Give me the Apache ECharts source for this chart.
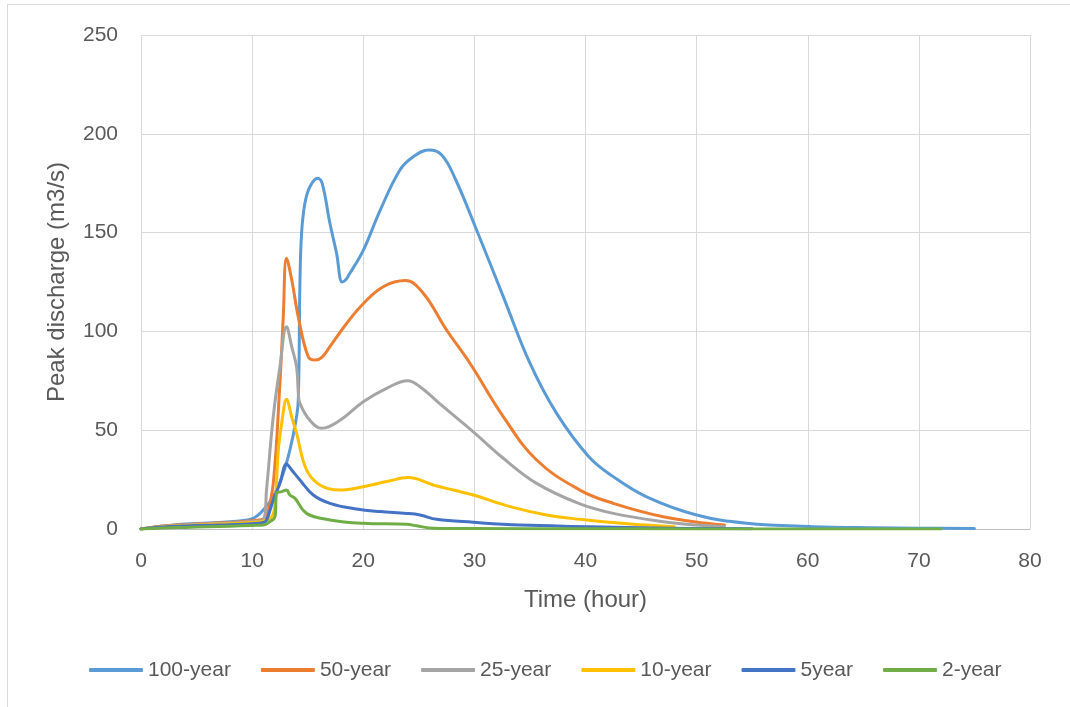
<!DOCTYPE html>
<html>
<head>
<meta charset="utf-8">
<script src="https://cdn.jsdelivr.net/npm/echarts@6/dist/echarts.min.js"></script>
<style>
  html, body { margin: 0; padding: 0; background: #fff; }
  #chart { width: 1070px; height: 707px; }
</style>
</head>
<body>
<div id="chart"></div>
<script>
// Hydrographs for each return period: time (hour) and discharge (m3/s)
const t100 = [0, 1, 2, 4, 6, 8, 10, 11, 11.9, 12.8, 13.4, 13.9, 14.15, 14.3, 14.45, 14.75, 15.2, 15.9, 16.3, 17, 17.6, 18.1, 18.4, 18.7, 20, 21.5, 23.3, 24.5, 25.9, 27.06, 28.3, 30.2, 32.6, 35, 37.4, 40.3, 42.5, 45.5, 50, 54.5, 60.5, 66, 70, 75];
const q100 = [0, 0.8, 1.5, 2.5, 3, 3.7, 5.2, 9.6, 16.3, 28.2, 40, 53.5, 65, 124, 149.6, 164.8, 173.2, 177.5, 175, 154.7, 139.5, 125, 126, 128.5, 141, 161, 181.7, 188.4, 191.8, 189.3, 177, 151.3, 117.6, 83.9, 58.5, 36.6, 26.5, 16.3, 7.1, 2.9, 1.2, 0.6, 0.4, 0.2];

const t50 = [0, 2, 4, 6, 8, 10, 11, 11.3, 11.9, 12.5, 12.8, 13.1, 13.6, 14.15, 15.05, 15.7, 16.3, 17, 18.5, 20, 21.8, 23.8, 25.4, 27.5, 29.6, 32.6, 35.6, 39.5, 42.5, 47, 50.9, 52.5];
const q50 = [0, 1.5, 2.2, 2.8, 3.3, 4.2, 5, 6.2, 23, 73.7, 107, 137, 125, 107.4, 87.2, 85.5, 87, 92.3, 104, 114, 122.6, 125.7, 119.3, 100.7, 83.9, 56.9, 34.9, 19.7, 13, 6.2, 2.9, 2];

const t25 = [0, 2, 4, 6, 8, 10, 11, 11.3, 11.9, 12.5, 13.1, 13.56, 14.0, 14.16, 14.3, 15.2, 16.26, 17.9, 20, 22.1, 24, 25.1, 27.2, 29.9, 32.6, 35.6, 39.5, 42.5, 47, 50, 52.5];
const q25 = [0, 1.3, 2, 2.6, 3, 3.8, 4.5, 20, 56.8, 82, 102.4, 92.3, 82, 68.7, 63.6, 55, 51, 55, 64.4, 71.2, 75, 72, 61.9, 49.2, 35.8, 23.1, 12.7, 7.9, 3.7, 2, 1.2];

const t10 = [0, 2, 4, 6, 8, 10, 11, 11.76, 12.06, 12.36, 12.66, 13.1, 13.56, 14.0, 14.9, 16.1, 17.9, 20, 22.1, 24.06, 26.3, 28.1, 29.9, 33.2, 36.5, 39.5, 44, 48];
const q10 = [0, 1.2, 1.8, 2.3, 2.7, 3.3, 4, 6.2, 13, 40, 53.5, 65.6, 56.8, 48.4, 29.9, 22.3, 19.7, 21.4, 24, 26, 22.3, 19.7, 17.2, 11.3, 7.1, 4.9, 2.5, 1.2];

const t5 = [0, 2, 4, 6, 8, 10, 11, 11.3, 11.9, 12.5, 13.1, 13.56, 14.3, 15.5, 17, 19.4, 21.5, 23.9, 25.1, 26.6, 29.9, 34.1, 40.3, 45, 50, 55];
const q5 = [0, 1, 1.5, 1.9, 2.2, 2.7, 3.3, 4.5, 14.7, 23, 32.9, 29.9, 24.8, 17.2, 13, 10.1, 8.8, 7.9, 7.1, 4.9, 3.4, 2, 1.2, 0.6, 0.3, 0.1];

const t2 = [0, 2, 4, 6, 8, 10, 11, 11.6, 12.06, 12.2, 12.66, 13.1, 13.4, 13.86, 14.9, 17, 20, 23.9, 24.8, 26.3, 30, 40, 50, 60, 72];
const q2 = [0, 0.5, 0.8, 1.1, 1.4, 1.8, 2, 3.7, 6.2, 18, 18.9, 19.7, 17.2, 15.5, 7.9, 4.6, 2.9, 2.4, 1.6, 0.4, 0.2, 0.1, 0.05, 0.02, 0];

const seriesNames = ['100-year', '50-year', '25-year', '10-year', '5year', '2-year'];
const seriesColors = ['#5B9BD5', '#ED7D31', '#A5A5A5', '#FFC000', '#4472C4', '#70AD47'];
const seriesTimes = [t100, t50, t25, t10, t5, t2];
const seriesFlows = [q100, q50, q25, q10, q5, q2];

const FONT = 'Liberation Sans';
const TEXT = '#595959';

const pairs = (ts, qs) => ts.map((t, i) => [t, qs[i]]);

const chart = echarts.init(document.getElementById('chart'), null, { renderer: 'canvas' });

chart.setOption({
  animation: false,
  backgroundColor: '#ffffff',
  textStyle: { fontFamily: FONT },
  graphic: [{
    type: 'rect',
    shape: { x: 7.5, y: 4.5, width: 1200, height: 900 },
    style: { fill: 'none', stroke: '#d9d9d9', lineWidth: 1 },
    silent: true,
    z: -1
  }],
  grid: { left: 141, right: 40, top: 35, bottom: 178, containLabel: false },
  legend: {
    data: seriesNames,
    left: 84,
    top: 653,
    icon: 'roundRect',
    itemWidth: 54,
    itemHeight: 4,
    itemGap: 30,
    textStyle: { color: TEXT, fontSize: 21, fontFamily: FONT, lineHeight: 24 }
  },
  xAxis: {
    type: 'value',
    min: 0,
    max: 80,
    interval: 10,
    name: 'Time (hour)',
    nameLocation: 'middle',
    nameGap: 59,
    nameTextStyle: { color: TEXT, fontSize: 24, fontFamily: FONT },
    axisLine: { show: true, lineStyle: { color: '#bfbfbf', width: 1 } },
    axisTick: { show: false },
    axisLabel: { color: TEXT, fontSize: 21, fontFamily: FONT, margin: 22 },
    splitLine: { show: true, lineStyle: { color: '#d9d9d9', width: 1 } }
  },
  yAxis: {
    type: 'value',
    min: 0,
    max: 250,
    interval: 50,
    name: 'Peak discharge (m3/s)',
    nameLocation: 'middle',
    nameGap: 72,
    nameTextStyle: { color: TEXT, fontSize: 24, fontFamily: FONT },
    axisLine: { show: false },
    axisTick: { show: false },
    axisLabel: { color: TEXT, fontSize: 21, fontFamily: FONT, margin: 23 },
    splitLine: { show: true, lineStyle: { color: '#d9d9d9', width: 1 } }
  },
  series: seriesNames.map((name, i) => ({
    name: name,
    type: 'line',
    data: pairs(seriesTimes[i], seriesFlows[i]),
    smooth: 0.4,
    showSymbol: false,
    symbol: 'none',
    color: seriesColors[i],
    lineStyle: { color: seriesColors[i], width: 3, cap: 'round', join: 'round' },
    z: 2 + i
  }))
});
</script>
</body>
</html>
